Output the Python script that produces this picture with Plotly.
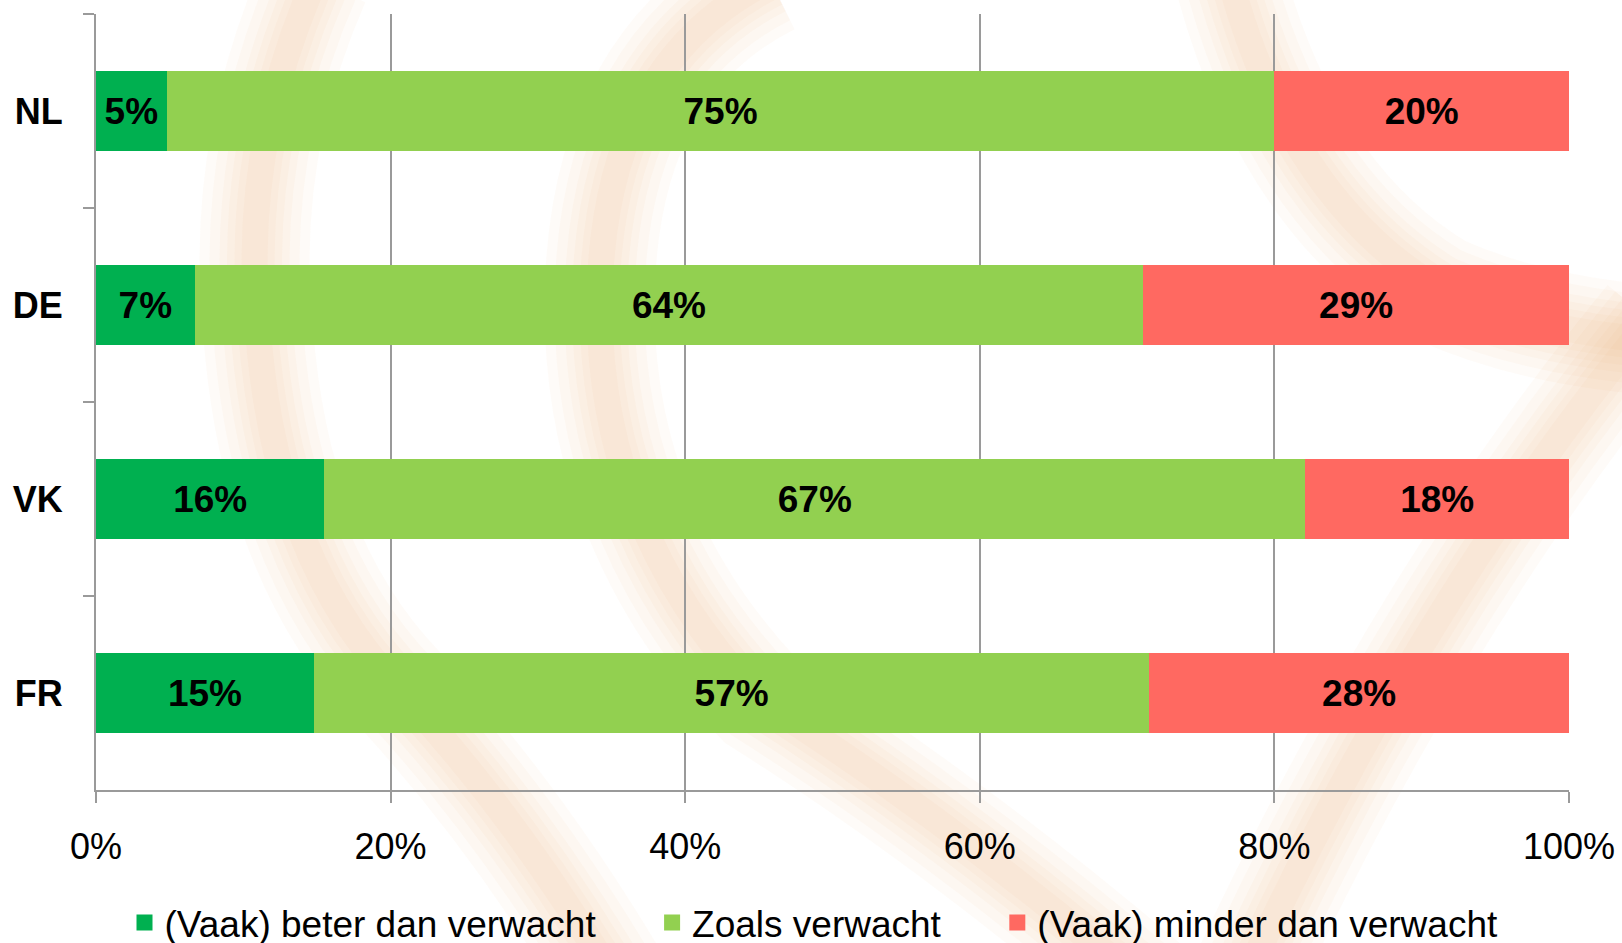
import plotly.graph_objects as go

countries = ['NL', 'DE', 'VK', 'FR']
beter = [4.8, 6.7, 15.5, 14.8]
zoals = [75.2, 64.4, 66.6, 56.7]
minder = [20.0, 28.9, 17.9, 28.5]
beter_labels = ['5%', '7%', '16%', '15%']
zoals_labels = ['75%', '64%', '67%', '57%']
minder_labels = ['20%', '29%', '18%', '28%']
series_names = ['(Vaak) beter dan verwacht', 'Zoals verwacht', '(Vaak) minder dan verwacht']
x_ticks = [0, 20, 40, 60, 80, 100]
x_tick_labels = ['0%', '20%', '40%', '60%', '80%', '100%']

colors = ['#00B050', '#92D050', '#FF6961']
FONT = 'Liberation Sans, Arial, sans-serif'
GRID = '#9a9a9a'
PAD = '\u00a0' * 5

fig = go.Figure()
for vals, labels, name, col in zip([beter, zoals, minder],
                                   [beter_labels, zoals_labels, minder_labels],
                                   series_names, colors):
    fig.add_trace(
        go.Bar(
            y=countries,
            x=vals,
            orientation='h',
            name=name,
            marker={'color': col, 'line': {'width': 0}},
            text=labels,
            textposition='inside',
            insidetextanchor='middle',
            textangle=0,
            textfont=dict(family=FONT, size=37, color='black', weight='bold'),
            width=0.41,
            hoverinfo='skip',
            showlegend=False,
        )
    )

# legend entries with bigger square swatches
for name, col in zip(series_names, colors):
    fig.add_trace(
        go.Scatter(
            x=[None], y=[None],
            mode='markers',
            marker=dict(symbol='square', size=20, color=col),
            name=name + PAD,
        )
    )

# faint orange swirls of the slide background (pixel coords -> paper)
L, R, T, B = 96, 53, 14, 153
PW, PH = 1622 - L - R, 943 - T - B

def px(xp, yp):
    return (xp - L) / PW, (943 - B - yp) / PH

def path(pts):
    p = [px(*q) for q in pts]
    s = 'M%.4f,%.4f' % p[0]
    for i in range(1, len(p) - 1, 2):
        s += ' Q%.4f,%.4f %.4f,%.4f' % (p[i] + p[i + 1])
    return s

swirls = [
    [(315, -20), (240, 150), (258, 330), (275, 560), (400, 690), (520, 820), (620, 990)],
    [(770, -20), (610, 60), (600, 280), (590, 520), (760, 700), (950, 820), (1150, 990)],
    [(1230, -20), (1290, 200), (1440, 290), (1530, 330), (1650, 340)],
    [(1650, 320), (1420, 600), (1240, 990)],
]
for pts in swirls:
    for w in [110, 90, 70, 55, 40, 26]:
        fig.add_shape(
            type='path', path=path(pts), xref='paper', yref='paper',
            line=dict(color='rgba(228,160,95,0.045)', width=w),
            layer='below',
        )

fig.update_layout(
    width=1622,
    height=943,
    autosize=False,
    margin=dict(l=L, r=R, t=T, b=B, autoexpand=False),
    barmode='stack',
    paper_bgcolor='white',
    plot_bgcolor='rgba(0,0,0,0)',
    font=dict(family=FONT, color='black'),
    showlegend=True,
    legend=dict(
        orientation='h',
        xref='container',
        x=124.5 / 1622,
        xanchor='left',
        yref='container',
        y=(943 - 923) / 943,
        yanchor='middle',
        font=dict(family=FONT, size=37, color='black'),
        bgcolor='rgba(0,0,0,0)',
        traceorder='normal',
    ),
    xaxis=dict(
        range=[0, 100],
        tickvals=x_ticks,
        ticktext=x_tick_labels,
        showgrid=True,
        gridcolor=GRID,
        gridwidth=1.5,
        showline=True,
        linecolor=GRID,
        linewidth=2,
        ticks='outside',
        ticklen=11,
        tickwidth=1.5,
        tickcolor=GRID,
        tickfont=dict(family=FONT, size=36, color='black'),
        ticklabelstandoff=13,
        zeroline=False,
        automargin=False,
        fixedrange=True,
    ),
    yaxis=dict(
        autorange='reversed',
        tickson='boundaries',
        showgrid=False,
        showline=True,
        linecolor=GRID,
        linewidth=2,
        ticks='outside',
        ticklen=11,
        tickwidth=1.5,
        tickcolor=GRID,
        tickfont=dict(family=FONT, size=36, color='black', weight='bold'),
        ticklabelstandoff=24,
        automargin=False,
        fixedrange=True,
    ),
)

fig.write_html('out.html', config={'displayModeBar': False},
               post_script="document.body.style.margin='0';")
